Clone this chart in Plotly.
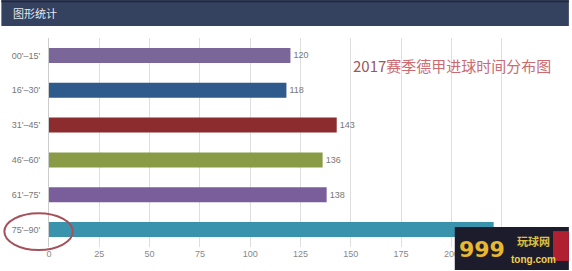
import plotly.graph_objects as go

categories = ["00'–15'", "16'–30'", "31'–45'", "46'–60'", "61'–75'", "75'–90'"]
goals = [120, 118, 143, 136, 138, 221]
bar_colors = ["#7b6699", "#2e5a8c", "#8c2c2e", "#8a9b45", "#7a5e9c", "#3a93ad"]
x_ticks = [0, 25, 50, 75, 100, 125, 150, 175, 200, 225, 250]

W, H = 572, 271
L, R, T, B = 48, 17, 38, 23
pw, ph = W - L - R, H - T - B

def px(x):
    return (x - L) / pw

def py(y):
    return (H - B - y) / ph

fig = go.Figure(go.Bar(
    x=goals, y=categories, orientation="h",
    marker=dict(color=bar_colors, line=dict(width=0)),
    width=0.43,
    text=goals, textposition="outside",
    textfont=dict(size=9, color="#777", family="Arial"),
    cliponaxis=False,
))

fig.update_layout(
    width=W, height=H,
    margin=dict(l=L, r=R, t=T, b=B),
    paper_bgcolor="white", plot_bgcolor="white",
    showlegend=False,
    bargap=0.57,
    xaxis=dict(range=[0, 250], tickvals=x_ticks, showgrid=True, gridcolor="#dedede",
               gridwidth=1, zeroline=False, showline=False,
               tickfont=dict(size=9, color="#888", family="Arial"), fixedrange=True),
    yaxis=dict(autorange="reversed", showgrid=False, showline=True, linecolor="#cccccc",
               linewidth=1, ticks="", ticklabelstandoff=6,
               tickfont=dict(size=9, color="#777", family="Arial")),
    shapes=[
        # header band
        dict(type="rect", xref="paper", yref="paper", x0=px(0), x1=px(W), y0=py(26), y1=py(0),
             fillcolor="#34425f", line=dict(width=0), layer="above"),
        dict(type="rect", xref="paper", yref="paper", x0=px(0), x1=px(W), y0=py(2), y1=py(0),
             fillcolor="#1d2740", line=dict(width=0), layer="above"),
        # ellipse highlight
        dict(type="circle", xref="paper", yref="paper", x0=px(3), x1=px(72), y0=py(251), y1=py(214),
             line=dict(color="#a5505a", width=2), layer="above"),
        # watermark box
        dict(type="rect", xref="paper", yref="paper", x0=px(457), x1=px(W), y0=py(H), y1=py(228),
             fillcolor="#1c1c2c", line=dict(width=0), layer="above"),
        dict(type="rect", xref="paper", yref="paper", x0=px(556), x1=px(W), y0=py(262), y1=py(232),
             fillcolor="#b02030", line=dict(width=0), layer="above"),
    ],
    annotations=[
        dict(text="图形统计", xref="paper", yref="paper", x=px(10), y=py(13),
             xanchor="left", yanchor="middle", showarrow=False,
             font=dict(size=11, color="#e4e8f0", family="Noto Sans CJK SC")),
        dict(text="<span style='color:#9c5564'>2017</span>赛季德甲进球时间分布图",
             xref="paper", yref="paper", x=px(352), y=py(66),
             xanchor="left", yanchor="middle", showarrow=False,
             font=dict(size=15, color="#cc6a70", family="Noto Sans CJK SC")),
        dict(text="<b>999</b>", xref="paper", yref="paper", x=px(459), y=py(251),
             xanchor="left", yanchor="middle", showarrow=False,
             font=dict(size=22, color="#e8b830", family="Arial Black, DejaVu Sans")),
        dict(text="<b>玩球网</b>", xref="paper", yref="paper", x=px(518), y=py(242),
             xanchor="left", yanchor="middle", showarrow=False,
             font=dict(size=11, color="#e0c040", family="Noto Sans CJK SC")),
        dict(text="<b>tong.com</b>", xref="paper", yref="paper", x=px(512), y=py(261),
             xanchor="left", yanchor="middle", showarrow=False,
             font=dict(size=10, color="#f0d050", family="Arial")),
    ],
)

fig.write_html("out.html")
